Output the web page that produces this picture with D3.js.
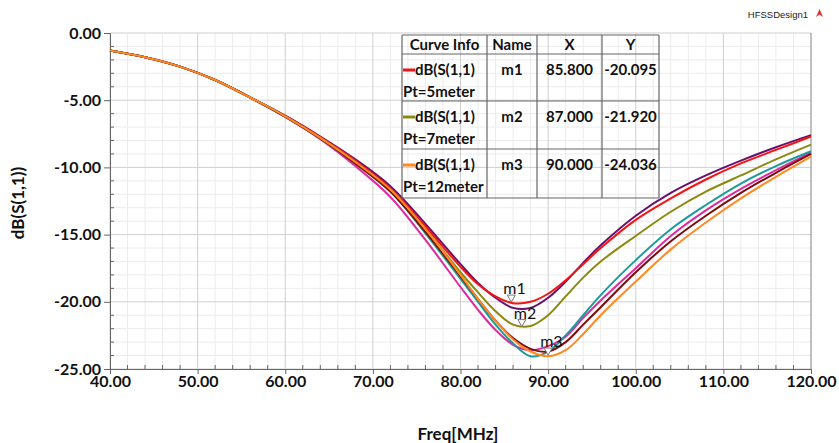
<!DOCTYPE html>
<html>
<head>
<meta charset="utf-8">
<script src="https://cdn.jsdelivr.net/npm/d3@7"></script>
<style>
    body { margin: 0; background: #fff; }
    svg { display: block; }
    .tickLabel { font-family: Lato, "Liberation Sans", sans-serif; font-weight: bold; font-size: 16px; fill: #111; }
    .axisTitle { font-family: Lato, "Liberation Sans", sans-serif; font-weight: bold; font-size: 17px; fill: #111; }
    .tableText { font-family: Lato, "Liberation Sans", sans-serif; font-weight: bold; font-size: 15px; fill: #111; }
    .markerText { font-family: Lato, "Liberation Sans", sans-serif; font-size: 16px; fill: #111; }
</style>
</head>
<body>
<script>
// S11 sweep chart, HFSS style

// frequency samples (MHz)
var freqs = [40, 44, 48, 52, 56, 60, 64, 68, 72, 76, 80, 82, 84, 86, 88, 90, 92, 94, 96, 100, 104, 108, 112, 116, 120];

// dB(S(1,1)) for each curve
var purpleVals  = [-1.3, -1.8, -2.5, -3.5, -4.8, -6.15, -7.7, -9.4, -11.4, -14.2, -17.2, -18.6, -19.7, -20.45, -20.45, -19.7, -18.5, -17.1, -15.8, -13.6, -11.9, -10.6, -9.5, -8.5, -7.6];
var redVals     = [-1.3, -1.8, -2.5, -3.5, -4.8, -6.17, -7.75, -9.5, -11.55, -14.4, -17.4, -18.7, -19.6, -20.1, -20.0, -19.4, -18.4, -17.2, -16.0, -13.9, -12.3, -10.9, -9.7, -8.7, -7.7];
var oliveVals   = [-1.3, -1.8, -2.5, -3.5, -4.8, -6.2, -7.8, -9.6, -11.7, -14.6, -17.8, -19.3, -20.7, -21.7, -21.8, -21.0, -19.6, -18.2, -17.0, -15.1, -13.3, -11.8, -10.6, -9.4, -8.3];
var magentaVals = [-1.3, -1.8, -2.5, -3.5, -4.8, -6.25, -7.9, -9.9, -12.2, -15.4, -18.9, -20.6, -22.1, -23.2, -23.6, -23.3, -22.6, -21.2, -19.9, -17.5, -15.1, -13.2, -11.6, -10.2, -8.9];
var tealVals    = [-1.3, -1.8, -2.5, -3.5, -4.8, -6.22, -7.85, -9.7, -11.8, -14.9, -18.3, -20.0, -21.7, -23.1, -24.05, -23.7, -22.5, -21.0, -19.5, -16.9, -14.6, -12.8, -11.2, -9.9, -8.8];
var darkRedVals = [-1.3, -1.8, -2.5, -3.5, -4.8, -6.22, -7.85, -9.7, -11.8, -14.8, -18.1, -19.8, -21.4, -22.7, -23.5, -23.7, -23.0, -21.7, -20.4, -17.8, -15.5, -13.6, -11.9, -10.4, -9.0];
var orangeVals  = [-1.3, -1.8, -2.5, -3.5, -4.8, -6.2, -7.8, -9.6, -11.65, -14.6, -18.0, -19.8, -21.4, -22.8, -23.7, -24.05, -23.6, -22.4, -21.0, -18.5, -16.1, -14.1, -12.3, -10.7, -9.2];

// axis ticks
var xTicks = [40, 50, 60, 70, 80, 90, 100, 110, 120];
var yTicks = [0, -5, -10, -15, -20, -25];

// legend table rows
var curveNames = ["dB(S(1,1)", "dB(S(1,1)", "dB(S(1,1)"];
var curveSubs = ["Pt=5meter", "Pt=7meter", "Pt=12meter"];
var markerNames = ["m1", "m2", "m3"];
var markerX = [85.8, 87.0, 90.0];
var markerY = [-20.095, -21.920, -24.036];

var w = 839, h = 443;

window.onload = function () {
    var svg = d3.select("body")
        .append("svg")
        .attr("width", w)
        .attr("height", h);

    // scales for the plot frame
    var x = d3.scaleLinear()
        .domain([40, 120])
        .range([110, 811]);

    var y = d3.scaleLinear()
        .domain([-25, 0])
        .range([369, 33]);

    var minorX = d3.range(42, 120, 2).filter(function (d) { return d % 10 != 0; });
    var minorY = d3.range(-24, 0, 1).filter(function (d) { return d % 5 != 0; });

    // minor grid
    var grid = svg.append("g").attr("class", "grid");
    grid.selectAll(".minorX")
        .data(minorX)
        .enter()
        .append("line")
        .attr("x1", function (d) { return x(d); })
        .attr("x2", function (d) { return x(d); })
        .attr("y1", y(0))
        .attr("y2", y(-25))
        .style("stroke", "#ececec");

    grid.selectAll(".minorY")
        .data(minorY)
        .enter()
        .append("line")
        .attr("x1", x(40))
        .attr("x2", x(120))
        .attr("y1", function (d) { return y(d); })
        .attr("y2", function (d) { return y(d); })
        .style("stroke", "#ececec");

    // major grid
    grid.selectAll(".majorX")
        .data(xTicks)
        .enter()
        .append("line")
        .attr("x1", function (d) { return x(d); })
        .attr("x2", function (d) { return x(d); })
        .attr("y1", y(0))
        .attr("y2", y(-25))
        .style("stroke", "#cfcfcf");

    grid.selectAll(".majorY")
        .data(yTicks)
        .enter()
        .append("line")
        .attr("x1", x(40))
        .attr("x2", x(120))
        .attr("y1", function (d) { return y(d); })
        .attr("y2", function (d) { return y(d); })
        .style("stroke", "#cfcfcf");

    // y axis with outer major ticks
    var yAxis = d3.axisLeft(y)
        .tickValues(yTicks)
        .tickSize(6)
        .tickPadding(3)
        .tickFormat(function (d) { return d.toFixed(2); });

    var yG = svg.append("g")
        .attr("transform", "translate(" + x(40) + ",0)")
        .call(yAxis);
    yG.select(".domain").style("stroke", "#666");
    yG.selectAll(".tick line").style("stroke", "#666");
    yG.selectAll(".tick text").attr("class", "tickLabel").attr("font-size", null).attr("font-family", null);

    // x axis
    var xAxis = d3.axisBottom(x)
        .tickValues(xTicks)
        .tickSize(5)
        .tickPadding(3)
        .tickFormat(function (d) { return d.toFixed(2); });

    var xG = svg.append("g")
        .attr("transform", "translate(0," + y(-25) + ")")
        .call(xAxis);
    xG.select(".domain").style("stroke", "#666");
    xG.selectAll(".tick line").style("stroke", "#666");
    xG.selectAll(".tick text").attr("class", "tickLabel").attr("font-size", null).attr("font-family", null)
        .attr("dy", "0.6em");

    // minor ticks, drawn inside the frame
    svg.selectAll(".minorTickY")
        .data(minorY)
        .enter()
        .append("line")
        .attr("x1", x(40))
        .attr("x2", x(40) + 4)
        .attr("y1", function (d) { return y(d); })
        .attr("y2", function (d) { return y(d); })
        .style("stroke", "#666");

    svg.selectAll(".minorTickX")
        .data(minorX)
        .enter()
        .append("line")
        .attr("x1", function (d) { return x(d); })
        .attr("x2", function (d) { return x(d); })
        .attr("y1", y(-25))
        .attr("y2", y(-25) - 4)
        .style("stroke", "#666");

    // right border
    svg.append("line")
        .attr("x1", x(120)).attr("x2", x(120))
        .attr("y1", y(0)).attr("y2", y(-25))
        .style("stroke", "#999");

    // axis titles
    svg.append("text")
        .attr("class", "axisTitle")
        .attr("text-anchor", "middle")
        .attr("x", 458)
        .attr("y", 440)
        .text("Freq[MHz]");

    svg.append("text")
        .attr("class", "axisTitle")
        .attr("text-anchor", "middle")
        .attr("transform", "translate(24,203) rotate(-90)")
        .text("dB(S(1,1))");

    // design name at top right
    svg.append("text")
        .attr("x", 808)
        .attr("y", 18)
        .attr("text-anchor", "end")
        .style("font-family", "'Liberation Sans', Arial, sans-serif")
        .style("font-size", "9.5px")
        .style("fill", "#222")
        .text("HFSSDesign1");
    svg.append("path")
        .attr("d", "M816,17 L819.5,9 L823,17 L819.5,14.5 Z")
        .style("fill", "#e03030");

    // the curves
    var curves = [
        { vals: purpleVals, color: "#6b0f6b" },
        { vals: redVals, color: "#f41414" },
        { vals: oliveVals, color: "#8a8a10" },
        { vals: magentaVals, color: "#dd2a9e" },
        { vals: tealVals, color: "#1d9b9b" },
        { vals: darkRedVals, color: "#7d0c0c" },
        { vals: orangeVals, color: "#ff8a22" }
    ];

    var line = d3.line()
        .x(function (d, i) { return x(freqs[i]); })
        .y(function (d) { return y(d); })
        .curve(d3.curveCatmullRom.alpha(0.5));

    svg.selectAll(".curve")
        .data(curves)
        .enter()
        .append("path")
        .attr("class", "curve")
        .attr("d", function (d) { return line(d.vals); })
        .style("fill", "none")
        .style("stroke", function (d) { return d.color; })
        .style("stroke-width", 2);

    // markers: little open triangles pointing at the value
    var markers = svg.selectAll(".marker")
        .data(markerNames)
        .enter()
        .append("g")
        .attr("class", "marker")
        .attr("transform", function (d, i) {
            return "translate(" + x(markerX[i]) + "," + y(markerY[i]) + ")";
        });

    markers.append("path")
        .attr("d", "M0,-1 L-4,-8 L4,-8 Z")
        .style("fill", "#fff")
        .style("stroke", "#777")
        .style("stroke-width", 1);

    markers.append("text")
        .attr("class", "markerText")
        .attr("x", -8)
        .attr("y", -9)
        .text(function (d) { return d; });

    // legend / marker table
    var tableX = [402, 487, 537, 602, 659];
    var tableY = [35, 54, 101, 149, 198];
    var legendColors = ["#f41414", "#8a8a10", "#ff8a22"];
    var table = svg.append("g").attr("class", "table");

    table.selectAll(".hLine")
        .data(tableY)
        .enter()
        .append("line")
        .attr("x1", tableX[0])
        .attr("x2", tableX[4])
        .attr("y1", function (d) { return d; })
        .attr("y2", function (d) { return d; })
        .style("stroke", "#666")
        .style("stroke-width", 1.2);

    table.selectAll(".vLine")
        .data(tableX)
        .enter()
        .append("line")
        .attr("x1", function (d) { return d; })
        .attr("x2", function (d) { return d; })
        .attr("y1", tableY[0])
        .attr("y2", tableY[4])
        .style("stroke", "#666")
        .style("stroke-width", 1.2);

    var headers = ["Curve Info", "Name", "X", "Y"];
    table.selectAll(".header")
        .data(headers)
        .enter()
        .append("text")
        .attr("class", "tableText")
        .attr("text-anchor", "middle")
        .attr("x", function (d, i) { return (tableX[i] + tableX[i + 1]) / 2; })
        .attr("y", 50)
        .text(function (d) { return d; });

    var rows = table.selectAll(".row")
        .data(curveNames)
        .enter()
        .append("g")
        .attr("transform", function (d, i) { return "translate(0," + tableY[i + 1] + ")"; });

    rows.append("line")
        .attr("x1", tableX[0] + 1)
        .attr("x2", tableX[0] + 13)
        .attr("y1", 16)
        .attr("y2", 16)
        .style("stroke", function (d, i) { return legendColors[i]; })
        .style("stroke-width", 3);

    rows.append("text")
        .attr("class", "tableText")
        .attr("x", tableX[0] + 13)
        .attr("y", 21)
        .text(function (d) { return d; });

    rows.append("text")
        .attr("class", "tableText")
        .attr("x", tableX[0] + 1)
        .attr("y", 43)
        .text(function (d, i) { return curveSubs[i]; });

    rows.append("text")
        .attr("class", "tableText")
        .attr("text-anchor", "middle")
        .attr("x", (tableX[1] + tableX[2]) / 2)
        .attr("y", 21)
        .text(function (d, i) { return markerNames[i]; });

    rows.append("text")
        .attr("class", "tableText")
        .attr("text-anchor", "middle")
        .attr("x", (tableX[2] + tableX[3]) / 2)
        .attr("y", 21)
        .text(function (d, i) { return markerX[i].toFixed(3); });

    rows.append("text")
        .attr("class", "tableText")
        .attr("text-anchor", "middle")
        .attr("x", (tableX[3] + tableX[4]) / 2)
        .attr("y", 21)
        .text(function (d, i) { return markerY[i].toFixed(3); });
};
</script>
</body>
</html>
